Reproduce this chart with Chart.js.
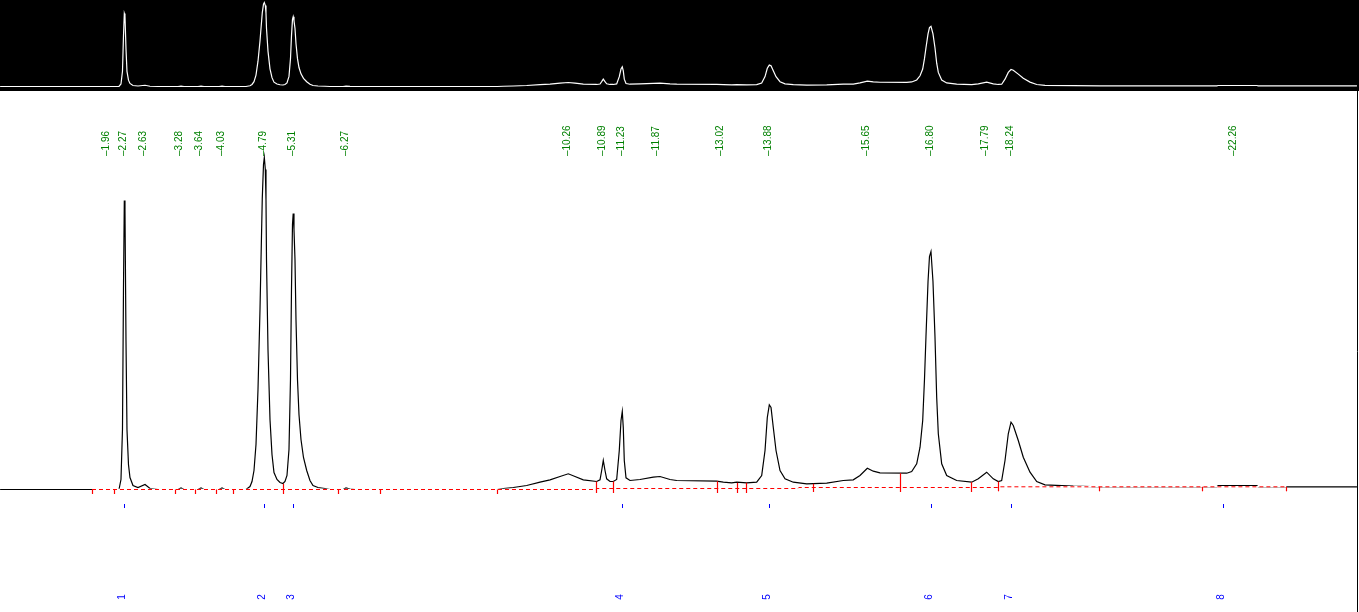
<!DOCTYPE html>
<html>
<head>
<meta charset="utf-8">
<script src="https://cdn.jsdelivr.net/npm/chart.js@4.4.1/dist/chart.umd.min.js"></script>
<style>
  html, body { margin: 0; padding: 0; background: #fff; overflow: hidden; }
  #overview { position: absolute; left: 0; top: 0; background: #000; }
  #main { position: absolute; left: 0; top: 91px; background: #fff; }
</style>
</head>
<body>
<canvas id="overview" width="1359" height="91"></canvas>
<canvas id="main" width="1359" height="521"></canvas>
<script>
// retention time axis (min)
const timeMin = 0.0378;
const timeMax = 24.5066;

// detector trace
const traceTimes = [
  0.04, 2.180, 2.216, 2.243, 2.261, 2.276, 2.288, 2.306, 2.324, 2.351, 2.378, 2.432, 2.522, 2.649, 2.739, 2.883,
  3.243, 3.297, 3.351, 3.603, 3.657, 3.711, 3.981, 4.035, 4.089,
  4.467, 4.539, 4.575, 4.611, 4.647, 4.683, 4.719, 4.737, 4.760, 4.782, 4.797, 4.815, 4.827, 4.836, 4.863, 4.899,
  4.935, 4.971, 5.025, 5.079, 5.133, 5.169, 5.205, 5.241, 5.268, 5.286, 5.304, 5.317, 5.331, 5.349, 5.367, 5.394,
  5.421, 5.457, 5.502, 5.560, 5.619, 5.673, 5.763, 5.889, 5.979, 6.213, 6.268, 6.340, 6.430,
  8.992, 9.100, 9.280, 9.521, 9.761, 9.941, 10.121, 10.270, 10.391, 10.540, 10.781, 10.841, 10.871, 10.900, 10.931,
  10.961, 11.021, 11.080, 11.141, 11.188, 11.219, 11.242, 11.260, 11.278, 11.309, 11.381, 11.561, 11.800, 11.921,
  12.101, 12.222, 12.942, 13.061, 13.212, 13.302, 13.482, 13.662, 13.752, 13.812, 13.853, 13.889, 13.920, 13.961,
  14.010, 14.082, 14.172, 14.321, 14.563, 14.923, 15.221, 15.401, 15.522, 15.654, 15.761, 15.882, 16.363, 16.453,
  16.543, 16.603, 16.651, 16.683, 16.710, 16.747, 16.773, 16.800, 16.836, 16.872, 16.903, 16.932, 16.993, 17.083,
  17.263, 17.533, 17.652, 17.803, 17.922, 18.012, 18.073, 18.133, 18.192, 18.241, 18.282, 18.372, 18.462, 18.583,
  18.704, 18.853, 19.363, 19.843, 21.945, 21.973, 22.665, 22.693, 24.470
];
const traceValues = [
  0, 0, 10, 60, 200, 289, 280, 150, 60, 25, 12, 4, 2, 5, 1, 0,
  0, 1.5, 0, 0, 1.5, 0, 0, 1.5, 0,
  0, 3, 8, 19, 45, 100, 180, 229, 291, 325, 332, 320, 290, 230, 140, 70,
  35, 17, 10, 7, 6, 8, 14, 40, 110, 200, 265, 276, 260, 230, 170, 110,
  75, 50, 32, 19, 9, 4, 2, 1, 0, 0, 1.5, 0.5, 0,
  0, 1, 2, 4, 7.3, 9.7, 13, 15.7, 13, 9.7, 8, 9.7, 19, 29, 19,
  10.7, 8, 8, 10, 39, 69, 78, 62, 29, 11.7, 9, 10, 12.3, 13,
  10, 9, 8.3, 7.3, 6.7, 7.3, 6.7, 7.3, 14, 39, 72, 84.7, 82, 62,
  39, 19, 10.7, 7.3, 5.7, 6.3, 9, 9.7, 14, 21.3, 18.3, 16.7, 16.3, 18,
  25.7, 42.3, 69, 110, 153, 208, 233, 238, 208, 153, 92, 55.7, 25.7, 14,
  9, 7.3, 10.7, 17.3, 10.7, 8, 9, 29, 55.7, 67.3, 64, 49, 32.3, 17.3,
  8, 4.7, 3.3, 2.7, 2.7, 4, 4, 2.7, 2.7
];

// integration baseline
const baseTimes = [1.694, 10.774, 10.78, 14.406, 14.42, 18.012, 18.02, 23.198];
const baseValues = [0, 0, 1, 1, 2, 2, 2.7, 2.7];

// peak start/end cuts
const cutTimes = [1.694, 2.096, 3.194, 3.554, 3.932, 4.238, 5.133, 6.129, 6.885, 8.992, 10.774, 11.075,
  12.953, 13.313, 13.475, 14.681, 16.242, 17.526, 18.012, 19.831, 21.686, 23.198];
const cutTops = [0, 0, 0, 0, 0, 0, 5.7, 0, 0, 0, 8, 8, 8.3, 6.7, 6.7, 5.7, 16.3, 7.3, 8, 2.7, 2.7, 2.7];
const cutBase = [0, 0, 0, 0, 0, 0, 0, 0, 0, 0, 1, 1, 1, 1, 1, 2, 2, 2, 2.7, 2.7, 2.7, 2.7];

// retention time labels
const rtTimes = [1.96, 2.27, 2.63, 3.28, 3.64, 4.03, 4.79, 5.31, 6.27, 10.26, 10.89, 11.23, 11.87,
  13.02, 13.88, 15.65, 16.80, 17.79, 18.24, 22.26];

// numbered peaks
const peakTimes = [2.27, 4.79, 5.31, 11.23, 13.88, 16.80, 18.24, 22.06];
const peakNumbers = ['1', '2', '3', '4', '5', '6', '7', '8'];

const toPoints = (xs, ys) => xs.map((t, i) => ({ x: t, y: ys[i] }));
const FONT = '10px "Liberation Sans", Arial, sans-serif';

const hiddenScales = (yMin, yMax) => ({
  x: { type: 'linear', min: timeMin, max: timeMax, display: false },
  y: { type: 'linear', min: yMin, max: yMax, display: false }
});

const baseOptions = {
  responsive: false,
  animation: false,
  events: [],
  layout: { padding: 0 },
  plugins: { legend: { display: false }, tooltip: { enabled: false } },
  elements: { point: { radius: 0 }, line: { tension: 0 } }
};

// Overview strip (white trace on black)
new Chart(document.getElementById('overview'), {
  type: 'line',
  data: {
    datasets: [{
      data: toPoints(traceTimes, traceValues),
      borderColor: '#fff',
      borderWidth: 1.2
    }]
  },
  options: { ...baseOptions, scales: hiddenScales(-17.8, 341.9) }
});

// annotations on the main chart
const annotate = {
  id: 'annotate',
  afterDatasetsDraw(chart) {
    const { ctx, scales: { x, y } } = chart;
    ctx.save();

    // red cut marks
    ctx.strokeStyle = '#ff0000';
    ctx.lineWidth = 1.2;
    cutTimes.forEach((t, i) => {
      const px = Math.round(x.getPixelForValue(t)) + 0.5;
      ctx.beginPath();
      ctx.moveTo(px, y.getPixelForValue(cutTops[i]));
      ctx.lineTo(px, y.getPixelForValue(cutBase[i]) + 4.5);
      ctx.stroke();
    });

    ctx.font = FONT;
    ctx.textBaseline = 'middle';

    // green retention times
    ctx.fillStyle = '#008000';
    rtTimes.forEach(t => {
      ctx.save();
      ctx.translate(x.getPixelForValue(t) - 0.5, 65);
      ctx.rotate(-Math.PI / 2);
      ctx.textAlign = 'left';
      ctx.fillText('\u2013' + t.toFixed(2), 0, 0);
      ctx.restore();
    });

    // blue peak marks and numbers
    ctx.strokeStyle = '#0000ff';
    ctx.fillStyle = '#0000ff';
    ctx.lineWidth = 1;
    peakTimes.forEach((t, i) => {
      const px = Math.round(x.getPixelForValue(t)) + 0.5;
      ctx.beginPath();
      ctx.moveTo(px, 413);
      ctx.lineTo(px, 417);
      ctx.stroke();
      ctx.save();
      ctx.translate(px - 2, 506);
      ctx.rotate(-Math.PI / 2);
      ctx.textAlign = 'center';
      ctx.fillText(peakNumbers[i], 0, 0);
      ctx.restore();
    });

    // right border
    ctx.strokeStyle = '#000';
    ctx.beginPath();
    ctx.moveTo(1357.5, 0);
    ctx.lineTo(1357.5, chart.height);
    ctx.stroke();

    ctx.restore();
  }
};

new Chart(document.getElementById('main'), {
  type: 'line',
  data: {
    datasets: [
      {
        // dashed baseline, red dashes
        data: toPoints(baseTimes, baseValues),
        borderColor: '#ff0000',
        borderWidth: 1,
        borderDash: [4, 3],
        order: 0
      },
      {
        // opaque gaps of the dashed pen
        data: toPoints(baseTimes, baseValues),
        borderColor: '#fff',
        borderWidth: 1.4,
        order: 1
      },
      {
        data: toPoints(traceTimes, traceValues),
        borderColor: '#000',
        borderWidth: 1.2,
        order: 2
      }
    ]
  },
  options: { ...baseOptions, scales: hiddenScales(-122.5, 398.5) },
  plugins: [annotate]
});
</script>
</body>
</html>
